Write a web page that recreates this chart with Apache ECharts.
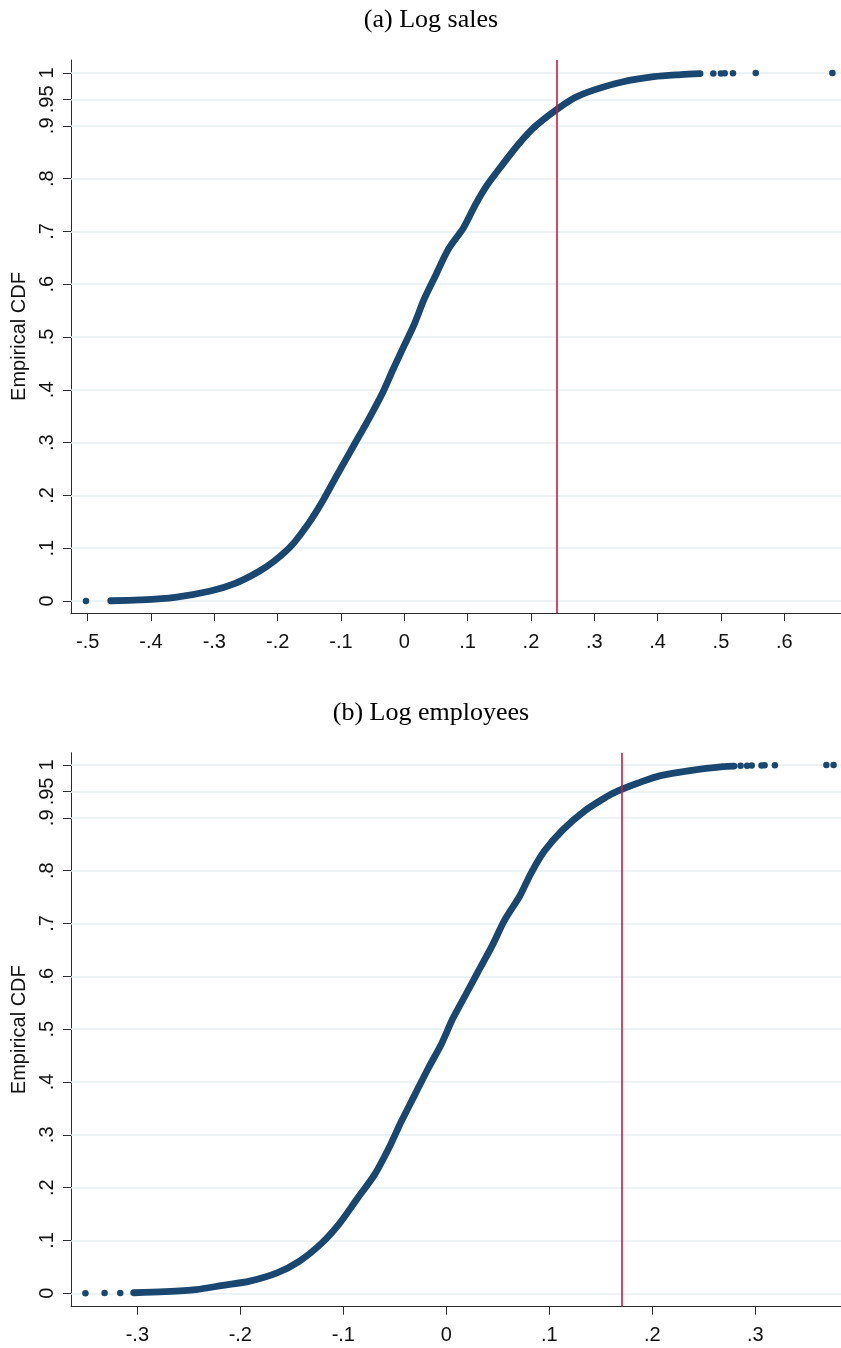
<!DOCTYPE html>
<html>
<head>
<meta charset="utf-8">
<title>Empirical CDF</title>
<script src="https://cdn.jsdelivr.net/npm/echarts@6/dist/echarts.min.js"></script>
<style>
  html, body { margin: 0; padding: 0; background: #fff; }
  #chart { width: 841px; height: 1348px; }
</style>
</head>
<body>
<div id="chart"></div>
<script>
// Panel (a): log sales — dense body of the empirical CDF
const salesX   = [-0.4636, -0.418, -0.362, -0.306, -0.268, -0.231, -0.206, -0.178, -0.150, -0.131, -0.106, -0.081, -0.056, -0.034, -0.018, 0.0003, 0.016, 0.0315, 0.050, 0.069, 0.094, 0.113, 0.131, 0.156, 0.181, 0.206, 0.2375, 0.269, 0.300, 0.344, 0.394, 0.437, 0.467];
const salesCdf = [0.0005, 0.002, 0.007, 0.019, 0.033, 0.055, 0.075, 0.105, 0.149, 0.185, 0.239, 0.292, 0.345, 0.395, 0.438, 0.485, 0.525, 0.572, 0.618, 0.665, 0.708, 0.752, 0.788, 0.828, 0.866, 0.898, 0.928, 0.953, 0.968, 0.983, 0.993, 0.997, 0.9988];
// Panel (a): isolated observations in the tails
const salesTailX   = [-0.5026, 0.488, 0.500, 0.506, 0.519, 0.555, 0.676];
const salesTailCdf = [0.0001, 0.9990, 0.9992, 0.9994, 0.9996, 0.9998, 1.0];

// Panel (b): log employees — dense body
const empX   = [-0.3036, -0.2732, -0.2429, -0.2169, -0.1909, -0.1649, -0.1432, -0.1215, -0.1042, -0.0869, -0.0695, -0.0565, -0.0435, -0.0305, -0.0175, -0.0045, 0.0063, 0.0193, 0.0323, 0.0453, 0.0562, 0.0713, 0.0822, 0.0952, 0.1125, 0.1342, 0.1558, 0.1667, 0.1862, 0.2079, 0.2382, 0.2685, 0.2793];
const empCdf = [0.001, 0.003, 0.007, 0.015, 0.023, 0.038, 0.060, 0.094, 0.131, 0.178, 0.225, 0.272, 0.326, 0.376, 0.426, 0.473, 0.520, 0.567, 0.614, 0.661, 0.705, 0.752, 0.795, 0.837, 0.876, 0.913, 0.940, 0.951, 0.966, 0.980, 0.990, 0.997, 0.998];
// Panel (b): isolated tail observations
const empTailX   = [-0.3504, -0.3318, -0.3166, 0.2857, 0.2920, 0.2965, 0.3060, 0.3090, 0.3190, 0.3690, 0.3760];
const empTailCdf = [0.0001, 0.0003, 0.0005, 0.9985, 0.9988, 0.9990, 0.9992, 0.9994, 0.9996, 0.9998, 1.0];

// Vertical reference lines
const salesCutoff = 0.238;
const empCutoff = 0.1665;

// Tick values
const yTicks = [0, 0.1, 0.2, 0.3, 0.4, 0.5, 0.6, 0.7, 0.8, 0.9, 0.95, 1];
const salesXTicks = [-0.5, -0.4, -0.3, -0.2, -0.1, 0, 0.1, 0.2, 0.3, 0.4, 0.5, 0.6];
const empXTicks = [-0.3, -0.2, -0.1, 0, 0.1, 0.2, 0.3];

const NAVY = '#1a476f';
const RED = '#cf173f';
const GRID = '#e7eff1';
const AXIS = '#2b2b2b';
const SANS = 'Liberation Sans, Arial, sans-serif';
const SERIF = 'Liberation Serif, Times New Roman, serif';

function fmt(v) {
  if (v === 0) return '0';
  if (v === 1) return '1';
  return String(v).replace('-0.', '-.').replace(/^0\./, '.');
}

function pair(xs, ys) { return xs.map((x, i) => [x, ys[i]]); }

function xAxisFor(gi, ticks, range) {
  return {
    type: 'value', gridIndex: gi, min: range[0], max: range[1],
    axisLine: { show: true, onZero: false, lineStyle: { color: AXIS, width: 1 } },
    axisTick: { show: true, length: 8, lineStyle: { color: AXIS, width: 1 }, customValues: ticks },
    axisLabel: { customValues: ticks, formatter: fmt, margin: 19, fontSize: 20, color: '#111', fontFamily: SANS },
    splitLine: { show: false }
  };
}

function yAxisFor(gi, range) {
  return {
    type: 'value', gridIndex: gi, min: range[0], max: range[1],
    name: 'Empirical CDF', nameLocation: 'middle', nameGap: 42,
    nameTextStyle: { fontSize: 20, color: '#111', fontFamily: SANS },
    axisLine: { show: true, onZero: false, lineStyle: { color: AXIS, width: 1 } },
    axisTick: { show: true, length: 8, lineStyle: { color: AXIS, width: 1 }, customValues: yTicks },
    axisLabel: { customValues: yTicks, formatter: fmt, rotate: 90, margin: 14, fontSize: 20, color: '#111', fontFamily: SANS, hideOverlap: false },
    splitLine: { show: false }
  };
}

// Horizontal gridlines at every labelled CDF level (including .95)
function gridLines(gi) {
  return {
    type: 'line', xAxisIndex: gi, yAxisIndex: gi, data: [], z: 1, silent: true,
    markLine: {
      silent: true, symbol: 'none', animation: false, z: 1,
      label: { show: false },
      lineStyle: { color: GRID, width: 1.6, type: 'solid' },
      data: yTicks.map(v => ({ yAxis: v }))
    }
  };
}

function body(gi, xs, ys) {
  return {
    type: 'line', xAxisIndex: gi, yAxisIndex: gi, data: pair(xs, ys), z: 3,
    showSymbol: false, smooth: 0.3, animation: false,
    lineStyle: { color: NAVY, width: 6.8, cap: 'round', join: 'round' }
  };
}

function tail(gi, xs, ys) {
  return {
    type: 'scatter', xAxisIndex: gi, yAxisIndex: gi, data: pair(xs, ys), z: 3,
    symbolSize: 6.5, itemStyle: { color: NAVY, opacity: 1 }, animation: false
  };
}

function cutoff(gi, v) {
  return {
    type: 'line', xAxisIndex: gi, yAxisIndex: gi, data: [], z: 4, silent: true,
    markLine: {
      silent: true, symbol: 'none', animation: false, z: 6,
      label: { show: false },
      lineStyle: { color: RED, width: 1.6, type: 'solid' },
      data: [{ xAxis: v }]
    }
  };
}

const chart = echarts.init(document.getElementById('chart'), null, { renderer: 'canvas' });
chart.setOption({
  backgroundColor: '#fff',
  animation: false,
  title: [
    { text: '(a) Log sales', left: 426, top: 2, textAlign: 'center',
      textStyle: { fontFamily: SERIF, fontWeight: 'normal', fontSize: 26, color: '#000' } },
    { text: '(b) Log employees', left: 426, top: 695, textAlign: 'center',
      textStyle: { fontFamily: SERIF, fontWeight: 'normal', fontSize: 26, color: '#000' } }
  ],
  grid: [
    { left: 71, top: 60, width: 770, height: 553 },
    { left: 71, top: 752.7, width: 770, height: 554 }
  ],
  xAxis: [
    xAxisFor(0, salesXTicks, [-0.5263, 0.6896]),
    xAxisFor(1, empXTicks, [-0.3644, 0.3832])
  ],
  yAxis: [
    yAxisFor(0, [-0.0227, 1.0246]),
    yAxisFor(1, [-0.0254, 1.0233])
  ],
  series: [
    gridLines(0), gridLines(1),
    body(0, salesX, salesCdf), tail(0, salesTailX, salesTailCdf),
    body(1, empX, empCdf), tail(1, empTailX, empTailCdf),
    cutoff(0, salesCutoff), cutoff(1, empCutoff)
  ]
});
</script>
</body>
</html>
